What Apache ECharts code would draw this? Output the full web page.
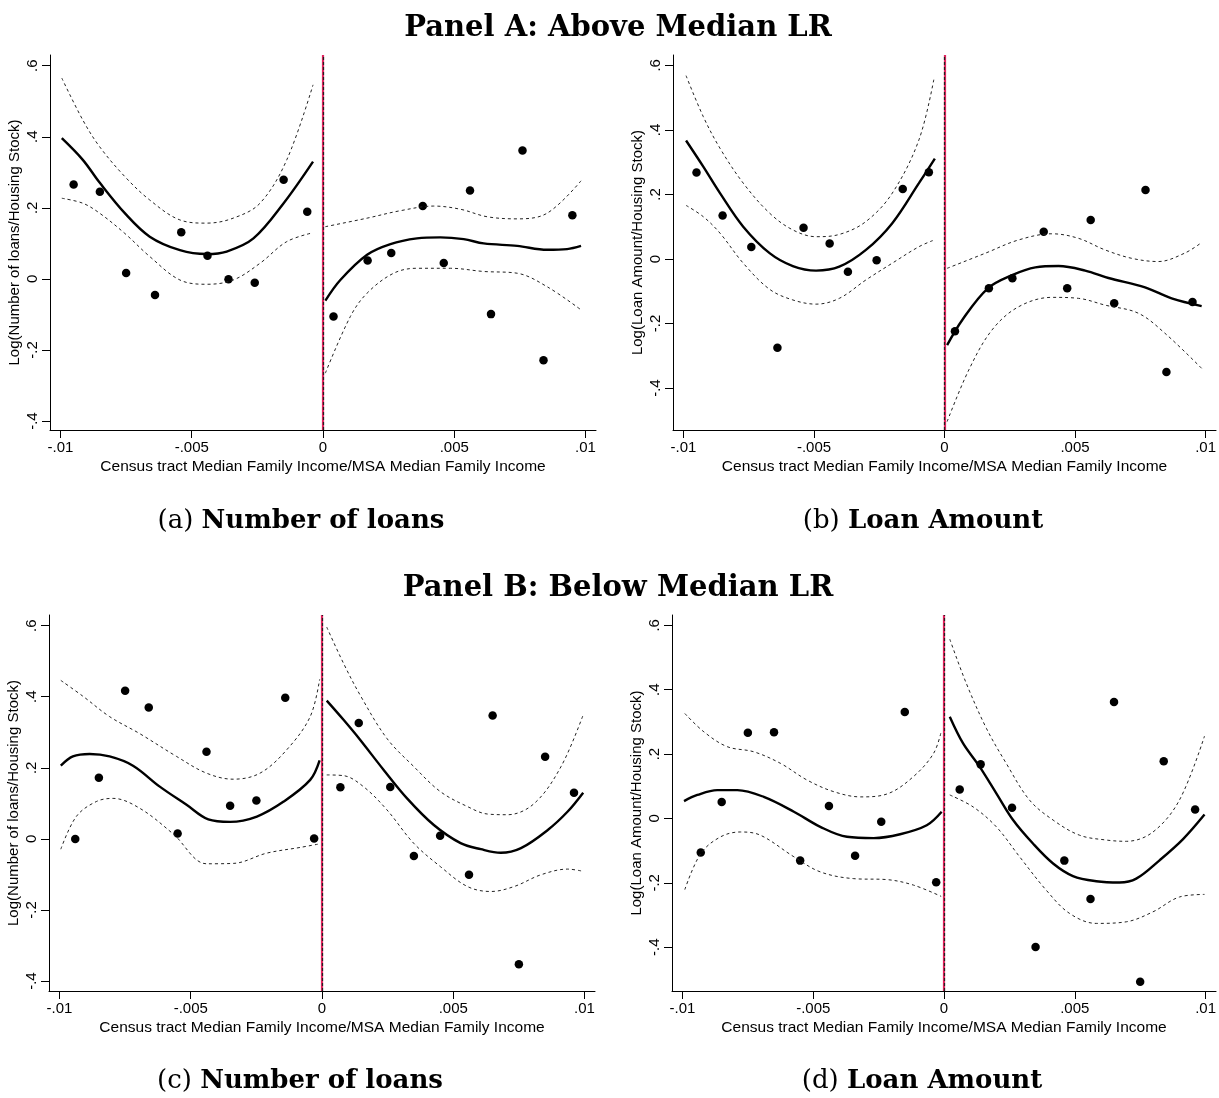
<!DOCTYPE html>
<html>
<head>
<meta charset="utf-8">
<title>RD plots: loans around the income cutoff</title>
<script src="https://cdn.jsdelivr.net/npm/echarts@6/dist/echarts.min.js"></script>
<style>
  html, body { margin: 0; padding: 0; background: #fff; }
  #chart { width: 1219px; height: 1098px; }
</style>
</head>
<body>
<div id="chart"></div>
<script>
// ---------- tick labels ----------
const xTicks = [-0.01, -0.005, 0, 0.005, 0.01];
const xTickLabels = ['-.01', '-.005', '0', '.005', '.01'];
const yTicks = [-0.4, -0.2, 0, 0.2, 0.4, 0.6];
const yTickLabels = ['-.4', '-.2', '0', '.2', '.4', '.6'];

// ---------- text ----------
const panelTitles = ['Panel A: Above Median LR', 'Panel B: Below Median LR'];
const captionTags = ['(a)', '(b)', '(c)', '(d)'];
const captionNames = ['Number of loans', 'Loan Amount', 'Number of loans', 'Loan Amount'];
const yTitles = ['Log(Number of loans/Housing Stock)', 'Log(Loan Amount/Housing Stock)',
                 'Log(Number of loans/Housing Stock)', 'Log(Loan Amount/Housing Stock)'];
const xTitle = 'Census tract Median Family Income/MSA Median Family Income';

// ---------- (a) Above median LR, number of loans ----------
const aBinX = [-0.0095, -0.0085, -0.0075, -0.0064, -0.0054, -0.0044, -0.0036, -0.0026, -0.0015, -0.0006,
               0.0004, 0.0017, 0.0026, 0.0038, 0.0046, 0.0056, 0.0064, 0.0076, 0.0084, 0.0095];
const aBinY = [0.266, 0.245, 0.017, -0.045, 0.131, 0.065, -0.001, -0.011, 0.279, 0.189,
               -0.106, 0.052, 0.073, 0.205, 0.045, 0.249, -0.099, 0.361, -0.229, 0.179];
const aFitLeft = [[-0.00995, 0.396], [-0.00915, 0.335], [-0.00851, 0.271], [-0.00755, 0.185], [-0.0066, 0.119],
                  [-0.00545, 0.081], [-0.00443, 0.070], [-0.00367, 0.077], [-0.00265, 0.114], [-0.0015, 0.213], [-0.00038, 0.330]];
const aUpLeft = [[-0.00995, 0.565], [-0.00915, 0.447], [-0.00851, 0.372], [-0.00755, 0.288], [-0.0066, 0.222],
                 [-0.00545, 0.166], [-0.00443, 0.157], [-0.00342, 0.171], [-0.0024, 0.213], [-0.00138, 0.335], [-0.00038, 0.546]];
const aLoLeft = [[-0.00995, 0.227], [-0.00915, 0.213], [-0.00851, 0.185], [-0.00755, 0.128], [-0.0066, 0.063],
                 [-0.00545, -0.003], [-0.00443, -0.015], [-0.00342, -0.003], [-0.0024, 0.044], [-0.00138, 0.105], [-0.00038, 0.130]];
const aFitRight = [[0.00009, -0.061], [0.00066, -0.003], [0.00168, 0.068], [0.00257, 0.098], [0.00358, 0.114], [0.00447, 0.117],
                   [0.00536, 0.112], [0.00612, 0.100], [0.0074, 0.093], [0.00854, 0.082], [0.0093, 0.084], [0.00983, 0.093]];
const aUpRight = [[0.00009, 0.147], [0.00168, 0.171], [0.00295, 0.192], [0.00422, 0.205], [0.00524, 0.196],
                  [0.00625, 0.175], [0.0074, 0.169], [0.00854, 0.185], [0.00983, 0.276]];
const aLoRight = [[0.00009, -0.265], [0.00104, -0.106], [0.00168, -0.040], [0.00269, 0.016], [0.00358, 0.030],
                  [0.00485, 0.030], [0.00612, 0.021], [0.0074, 0.016], [0.00854, -0.022], [0.00983, -0.087]];

// ---------- (b) Above median LR, loan amount ----------
const bBinX = [-0.0095, -0.0085, -0.0074, -0.0064, -0.0054, -0.0044, -0.0037, -0.0026, -0.0016, -0.0006,
               0.0004, 0.0017, 0.0026, 0.0038, 0.0047, 0.0056, 0.0065, 0.0077, 0.0085, 0.0095];
const bBinY = [0.268, 0.135, 0.037, -0.275, 0.097, 0.048, -0.040, -0.004, 0.217, 0.269,
               -0.224, -0.091, -0.060, 0.084, -0.091, 0.121, -0.137, 0.214, -0.350, -0.133];
const bFitLeft = [[-0.0099, 0.367], [-0.00924, 0.286], [-0.0086, 0.204], [-0.00771, 0.100], [-0.0067, 0.018],
                  [-0.00581, -0.022], [-0.00492, -0.036], [-0.00403, -0.024], [-0.00301, 0.028], [-0.002, 0.111],
                  [-0.00098, 0.235], [-0.00037, 0.311]];
const bUpLeft = [[-0.0099, 0.568], [-0.00924, 0.441], [-0.0086, 0.343], [-0.00771, 0.235], [-0.0067, 0.142],
                 [-0.00581, 0.090], [-0.00492, 0.069], [-0.00403, 0.076], [-0.00301, 0.116], [-0.002, 0.204],
                 [-0.00098, 0.369], [-0.0004, 0.560]];
const bLoLeft = [[-0.0099, 0.166], [-0.00924, 0.131], [-0.0086, 0.080], [-0.00771, -0.013], [-0.0067, -0.094],
                 [-0.00581, -0.127], [-0.00492, -0.140], [-0.00403, -0.122], [-0.00301, -0.065], [-0.002, -0.013],
                 [-0.00098, 0.038], [-0.00045, 0.057]];
const bFitRight = [[0.0001, -0.267], [0.00068, -0.189], [0.00166, -0.091], [0.00259, -0.050], [0.00348, -0.026],
                   [0.00437, -0.022], [0.00539, -0.036], [0.00628, -0.059], [0.00768, -0.088], [0.0087, -0.122], [0.00985, -0.146]];
const bUpRight = [[0.0001, -0.029], [0.00157, 0.018], [0.00284, 0.059], [0.00411, 0.078], [0.00513, 0.064],
                  [0.00615, 0.028], [0.00717, 0.002], [0.00819, -0.008], [0.0092, 0.018], [0.00985, 0.051]];
const bLoRight = [[0.0001, -0.504], [0.00093, -0.344], [0.00182, -0.220], [0.00284, -0.148], [0.00411, -0.119],
                  [0.00513, -0.122], [0.00615, -0.143], [0.00742, -0.168], [0.00844, -0.230], [0.00985, -0.339]];

// ---------- (c) Below median LR, number of loans ----------
const cBinX = [-0.0094, -0.0085, -0.0075, -0.0066, -0.0055, -0.0044, -0.0035, -0.0025, -0.0014, -0.0003,
               0.0007, 0.0014, 0.0026, 0.0035, 0.0045, 0.0056, 0.0065, 0.0075, 0.0085, 0.0096];
const cBinY = [0.000, 0.172, 0.417, 0.370, 0.015, 0.245, 0.093, 0.108, 0.397, 0.001,
               0.145, 0.326, 0.146, -0.048, 0.009, -0.101, 0.347, -0.353, 0.231, 0.130];
const cFitLeft = [[-0.00995, 0.206], [-0.00949, 0.232], [-0.00885, 0.239], [-0.00809, 0.232], [-0.0072, 0.206],
                  [-0.00618, 0.147], [-0.00516, 0.096], [-0.00433, 0.055], [-0.0035, 0.048], [-0.00248, 0.063],
                  [-0.00146, 0.105], [-0.00045, 0.166], [-0.00009, 0.221]];
const cUpLeft = [[-0.00995, 0.446], [-0.0091, 0.401], [-0.00809, 0.344], [-0.00694, 0.296], [-0.00554, 0.232],
                 [-0.0044, 0.185], [-0.00338, 0.168], [-0.00236, 0.185], [-0.00134, 0.251], [-0.00045, 0.344], [-0.00009, 0.449]];
const cLoLeft = [[-0.00995, -0.029], [-0.00936, 0.063], [-0.0086, 0.105], [-0.00796, 0.114], [-0.00694, 0.086],
                 [-0.00567, 0.014], [-0.0044, -0.070], [-0.00338, -0.069], [-0.0021, -0.040], [-0.00083, -0.024], [-0.00009, -0.014]];
const cFitRight = [[0.00018, 0.389], [0.00082, 0.335], [0.00145, 0.279], [0.00235, 0.194], [0.00324, 0.114],
                   [0.00426, 0.039], [0.00528, -0.012], [0.00605, -0.029], [0.00681, -0.039], [0.00758, -0.026],
                   [0.0086, 0.025], [0.00936, 0.077], [0.00995, 0.130]];
const cUpRight = [[0.00018, 0.596], [0.00082, 0.494], [0.00145, 0.405], [0.00247, 0.283], [0.00349, 0.204],
                  [0.00451, 0.133], [0.00554, 0.091], [0.0063, 0.070], [0.00707, 0.068], [0.00809, 0.100],
                  [0.00911, 0.204], [0.00995, 0.349]];
const cLoRight = [[0.00018, 0.180], [0.00082, 0.178], [0.00158, 0.147], [0.00247, 0.082], [0.00349, -0.012],
                  [0.00451, -0.078], [0.00554, -0.134], [0.00643, -0.148], [0.00732, -0.134], [0.00834, -0.101],
                  [0.00936, -0.085], [0.00987, -0.090]];

// ---------- (d) Below median LR, loan amount ----------
const dBinX = [-0.0093, -0.0085, -0.0075, -0.0065, -0.0055, -0.0044, -0.0034, -0.0024, -0.0015, -0.0003,
               0.0006, 0.0014, 0.0026, 0.0035, 0.0046, 0.0056, 0.0065, 0.0075, 0.0084, 0.0096];
const dBinY = [-0.106, 0.051, 0.266, 0.268, -0.131, 0.039, -0.116, -0.010, 0.331, -0.198,
               0.090, 0.168, 0.033, -0.399, -0.131, -0.250, 0.362, -0.507, 0.178, 0.028];
const dFitLeft = [[-0.00994, 0.054], [-0.00943, 0.073], [-0.00867, 0.088], [-0.0079, 0.088], [-0.00689, 0.067],
                  [-0.00574, 0.021], [-0.00473, -0.026], [-0.00371, -0.057], [-0.00269, -0.061], [-0.00168, -0.049],
                  [-0.00066, -0.021], [-0.00009, 0.021]];
const dUpLeft = [[-0.00991, 0.326], [-0.00918, 0.269], [-0.00829, 0.223], [-0.00727, 0.207], [-0.00625, 0.171],
                 [-0.00523, 0.119], [-0.00421, 0.083], [-0.00319, 0.067], [-0.00218, 0.076], [-0.00117, 0.130],
                 [-0.0004, 0.202], [-0.00011, 0.269]];
const dLoLeft = [[-0.00991, -0.221], [-0.0093, -0.109], [-0.00854, -0.057], [-0.00778, -0.042], [-0.00702, -0.052],
                 [-0.00574, -0.119], [-0.00473, -0.166], [-0.00345, -0.187], [-0.00218, -0.190], [-0.00117, -0.207], [-0.00011, -0.242]];
const dFitRight = [[0.00022, 0.316], [0.00073, 0.233], [0.00136, 0.161], [0.002, 0.078], [0.00264, -0.005],
                   [0.0034, -0.078], [0.00417, -0.140], [0.00493, -0.179], [0.00582, -0.195], [0.00671, -0.199],
                   [0.00735, -0.187], [0.00824, -0.130], [0.00913, -0.065], [0.00996, 0.012]];
const dUpRight = [[0.00022, 0.557], [0.00085, 0.420], [0.00162, 0.280], [0.00238, 0.171], [0.00327, 0.057],
                  [0.00417, -0.005], [0.00518, -0.052], [0.0062, -0.067], [0.00697, -0.071], [0.00799, -0.042],
                  [0.009, 0.057], [0.00996, 0.256]];
const dLoRight = [[0.00022, 0.073], [0.00111, 0.036], [0.002, -0.026], [0.00289, -0.119], [0.00391, -0.223],
                  [0.0048, -0.295], [0.00582, -0.326], [0.00697, -0.321], [0.00799, -0.290], [0.009, -0.244], [0.00996, -0.236]];

// ---------- per-panel assembly ----------
const panels = [
  { bins: [aBinX, aBinY], fit: [aFitLeft, aFitRight], up: [aUpLeft, aUpRight], lo: [aLoLeft, aLoRight],
    yRange: [-0.425, 0.63], box: { left: 50, top: 55, width: 546, height: 375 } },
  { bins: [bBinX, bBinY], fit: [bFitLeft, bFitRight], up: [bUpLeft, bUpRight], lo: [bLoLeft, bLoRight],
    yRange: [-0.53, 0.632], box: { left: 673, top: 55, width: 545, height: 375 } },
  { bins: [cBinX, cBinY], fit: [cFitLeft, cFitRight], up: [cUpLeft, cUpRight], lo: [cLoLeft, cLoRight],
    yRange: [-0.428, 0.63], box: { left: 49, top: 615, width: 546, height: 376 } },
  { bins: [dBinX, dBinY], fit: [dFitLeft, dFitRight], up: [dUpLeft, dUpRight], lo: [dLoLeft, dLoRight],
    yRange: [-0.536, 0.632], box: { left: 672, top: 615, width: 545, height: 376 } }
];
const xRange = [-0.0104, 0.0104];

const sans = 'Liberation Sans, Arial, Helvetica, sans-serif';
const serif = 'DejaVu Serif, Liberation Serif, serif';

function tickText(values, labels) {
  return v => {
    const i = values.findIndex(t => Math.abs(t - v) < 1e-9);
    return i >= 0 ? labels[i] : '';
  };
}

const grid = [], xAxis = [], yAxis = [], series = [];
panels.forEach((p, i) => {
  grid.push(Object.assign({ containLabel: false }, p.box));
  xAxis.push({
    type: 'value', gridIndex: i, min: xRange[0], max: xRange[1],
    name: xTitle, nameLocation: 'middle', nameGap: 29,
    nameTextStyle: { color: '#000', fontFamily: sans, fontSize: 15.5 },
    axisLine: { show: true, onZero: false, lineStyle: { color: '#000', width: 1 } },
    axisTick: { show: true, length: 8, customValues: xTicks, lineStyle: { color: '#000', width: 1 } },
    axisLabel: { customValues: xTicks, formatter: tickText(xTicks, xTickLabels), color: '#000',
                 fontFamily: sans, fontSize: 15, margin: 10 },
    splitLine: { show: false }
  });
  yAxis.push({
    type: 'value', gridIndex: i, min: p.yRange[0], max: p.yRange[1],
    name: yTitles[i], nameLocation: 'middle', nameRotate: 90, nameGap: 28,
    nameTextStyle: { color: '#000', fontFamily: sans, fontSize: 15 },
    axisLine: { show: true, onZero: false, lineStyle: { color: '#000', width: 1 } },
    axisTick: { show: true, length: 8, customValues: yTicks, lineStyle: { color: '#000', width: 1 } },
    axisLabel: { customValues: yTicks, formatter: tickText(yTicks, yTickLabels), rotate: 90, color: '#000',
                 fontFamily: sans, fontSize: 15, margin: 10 },
    splitLine: { show: false }
  });

  // cutoff at zero: red rule with a black dash pattern over it
  series.push({
    type: 'scatter', xAxisIndex: i, yAxisIndex: i, data: [], silent: true,
    markLine: { silent: true, symbol: 'none', label: { show: false },
      data: [{ xAxis: 0 }], lineStyle: { color: '#e0245e', width: 2.2, type: 'solid' } }
  });
  series.push({
    type: 'scatter', xAxisIndex: i, yAxisIndex: i, data: [], silent: true,
    markLine: { silent: true, symbol: 'none', label: { show: false },
      data: [{ xAxis: 0 }], lineStyle: { color: '#222', width: 1.2, type: [3, 2] } }
  });

  // confidence bands
  [p.up, p.lo].forEach(band => band.forEach(seg => series.push({
    type: 'line', xAxisIndex: i, yAxisIndex: i, data: seg, smooth: 0.35, showSymbol: false, silent: true,
    lineStyle: { color: '#222', width: 1, type: [3, 3] }
  })));

  // fitted polynomial
  p.fit.forEach(seg => series.push({
    type: 'line', xAxisIndex: i, yAxisIndex: i, data: seg, smooth: 0.35, showSymbol: false, silent: true,
    lineStyle: { color: '#000', width: 2.4 }
  }));

  // binned means
  series.push({
    type: 'scatter', xAxisIndex: i, yAxisIndex: i, symbolSize: 8.5, silent: true,
    itemStyle: { color: '#000', opacity: 1 },
    data: p.bins[0].map((x, k) => [x, p.bins[1][k]])
  });
});

// titles and sub-figure captions
const captionPos = [[301, 521], [923, 521], [300, 1081], [922, 1081]];
const graphic = [
  { type: 'text', x: 618, y: 28, style: { text: panelTitles[0], font: 'bold 29px ' + serif, fill: '#000', align: 'center', verticalAlign: 'middle' } },
  { type: 'text', x: 618, y: 588, style: { text: panelTitles[1], font: 'bold 29px ' + serif, fill: '#000', align: 'center', verticalAlign: 'middle' } }
];
captionPos.forEach((pos, i) => graphic.push({
  type: 'text', x: pos[0], y: pos[1],
  style: {
    text: '{r|' + captionTags[i] + ' }{b|' + captionNames[i] + '}',
    align: 'center', verticalAlign: 'middle', fill: '#000',
    rich: {
      r: { fontFamily: serif, fontSize: 26, fontWeight: 'normal', fill: '#000' },
      b: { fontFamily: serif, fontSize: 26, fontWeight: 'bold', fill: '#000' }
    }
  }
}));

const chart = echarts.init(document.getElementById('chart'), null, { renderer: 'canvas' });
chart.setOption({
  animation: false,
  backgroundColor: '#fff',
  grid, xAxis, yAxis, series, graphic
});
</script>
</body>
</html>
